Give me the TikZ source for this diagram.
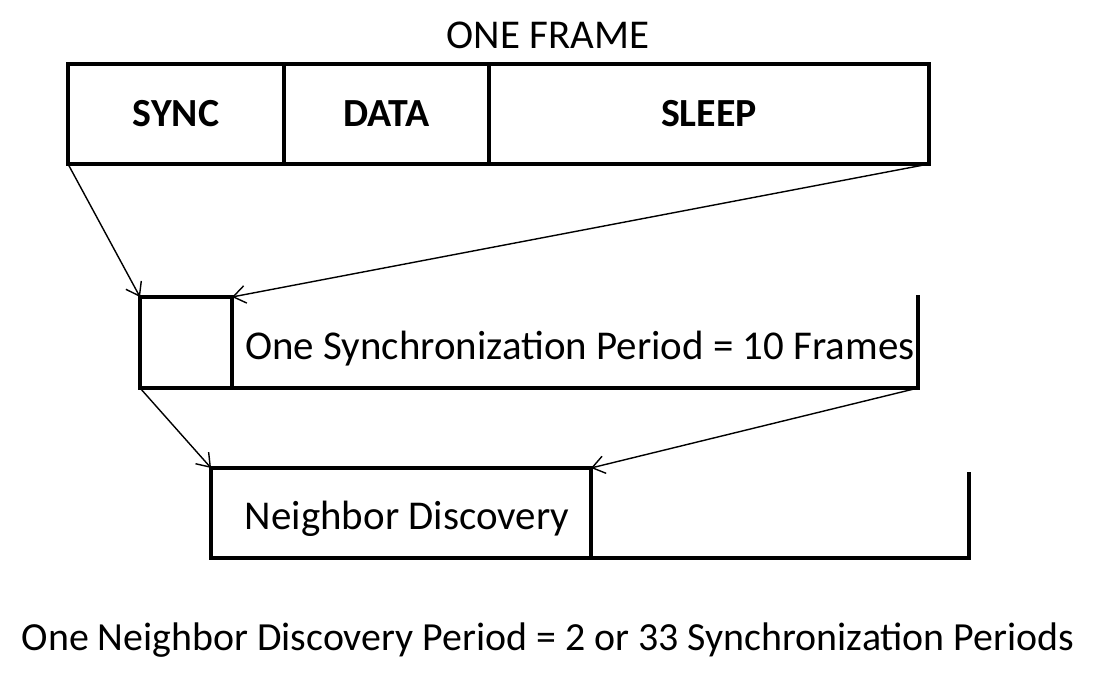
\documentclass[tikz,border=0pt]{standalone}
\usepackage{fontspec}
\setmainfont{Carlito}
\usetikzlibrary{arrows.meta}
\tikzset{
    cell/.style={draw, line width=2.2pt, inner sep=0pt, outer sep=0pt, minimum height=2cm},
    slot/.style={draw, line width=2.2pt, inner sep=0pt, outer sep=0pt, minimum height=1.82cm},
    zoomarrow/.style={-{Straight Barb[length=7pt,width=10pt]}, line width=0.8pt},
    rim/.style={line width=2.2pt, line cap=rect},
    caption/.style={font=\fontsize{22.7}{26}\selectfont, inner sep=0pt}
}
\begin{document}
\begin{tikzpicture}[x=0.02cm, y=-0.02cm]
            \useasboundingbox (0,0) rectangle (1096,679);
            \node[caption, font=\fontsize{23.3}{27}\selectfont] (frametitle) at (548,35) {ONE FRAME};
            \node[cell, minimum width=4.32cm] (sync) at (176,114)
                {\fontsize{22.7}{26}\selectfont\bfseries SYNC};
            \node[cell, minimum width=4.1cm] (data) at (386.5,114)
                {\fontsize{22.7}{26}\selectfont\bfseries DATA};
            \node[cell, minimum width=8.8cm] (sleep) at (709,114)
                {\fontsize{22.7}{26}\selectfont\bfseries SLEEP};
            \node[slot, minimum width=1.84cm] (syncslot) at (186,342.5) {};
            \coordinate (syncend) at (918,388);
            \coordinate (synctop) at (918,297);
            \draw[rim] (syncslot.south east) -- (syncend) -- (synctop);
            \node[caption, font=\fontsize{23.3}{27}\selectfont] (synclabel) at (580,349)
                {One Synchronization Period = 10 Frames};
            \node[slot, minimum width=7.6cm, minimum height=1.8cm] (ndslot) at (401,513) {};
            \node[caption, font=\fontsize{23.3}{27}\selectfont] (ndtext) at (407,519)
                {Neighbor Discovery};
            \coordinate (ndend) at (969,558);
            \coordinate (ndtop) at (969,474);
            \draw[rim] (ndslot.south east) -- (ndend) -- (ndtop);
            \node[caption] (ndlabel) at (548,640)
                {One Neighbor Discovery Period = 2 or 33 Synchronization Periods};
            \draw[zoomarrow] (sync.south west) -- (syncslot.north west);
            \draw[zoomarrow] (sleep.south east) -- (syncslot.north east);
            \draw[zoomarrow] (syncslot.south west) -- (ndslot.north west);
            \draw[zoomarrow] (syncend) -- (ndslot.north east);
\end{tikzpicture}
\end{document}
